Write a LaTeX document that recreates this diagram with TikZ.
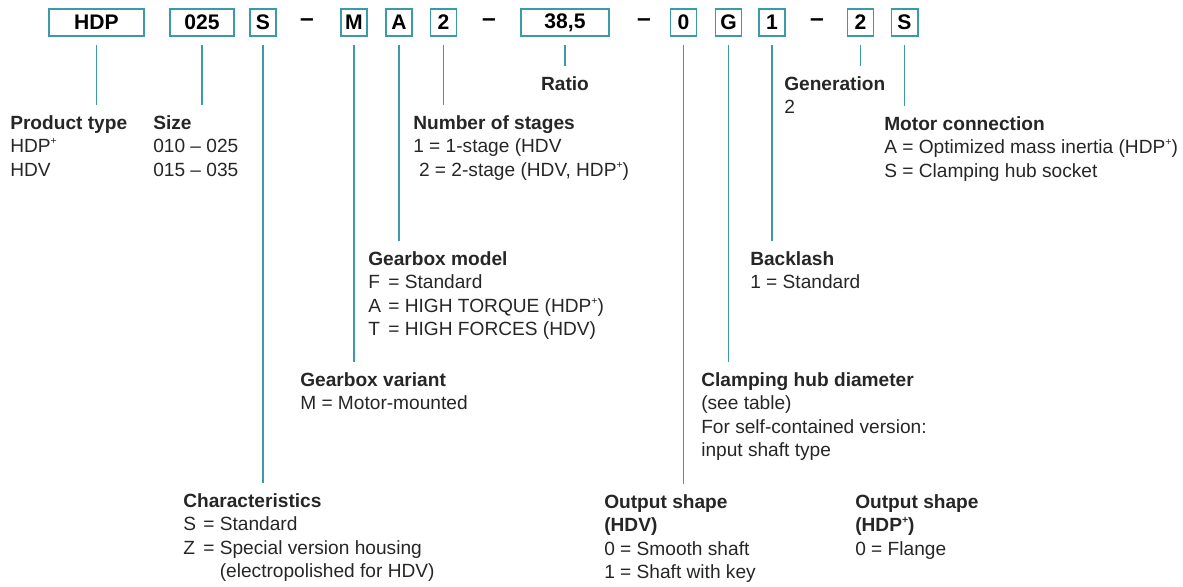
\documentclass[tikz,border=0pt]{standalone}
\usepackage{fontspec}
\setsansfont{Liberation Sans}
\usepackage{tikz}
\usetikzlibrary{positioning}
\definecolor{TCTeal}{HTML}{3A9AA5}
\definecolor{TCInk}{HTML}{262626}
\newcommand{\optline}[2]{\makebox[1.05em][l]{#1}= #2}
\newcommand{\plusup}{\raisebox{0.42em}{\fontsize{7.5}{8}\selectfont +}}

\begin{document}
\begin{tikzpicture}[
    x=0.025cm,y=-0.025cm,font=\sffamily\fontsize{13.6}{16.7}\selectfont,
    code/.style={draw=TCTeal,line width=1.4pt,minimum height=0.675cm,minimum width=0.65cm,
      inner sep=0pt,font=\sffamily\bfseries\fontsize{15}{16}\selectfont,text=black},
    sep/.style={inner sep=0pt,font=\sffamily\bfseries\fontsize{17.5}{18}\selectfont},
    info/.style={anchor=north west,inner sep=0pt,align=left,text=TCInk},
    lead/.style={draw=TCTeal,line width=1.4pt,shorten <=0.2cm,shorten >=0.25cm}
  ]
    \useasboundingbox (0,0) rectangle (1183,586);

    % type code
    \node[code,minimum width=2.375cm] (hdp) at (96.5,22.5) {HDP};
    \node[code,minimum width=1.6cm] (size) at (202,22.5) {025};
    \node[code] (char) at (263,22.5) {S};
    \node[sep] (dashA) at (307,22.5) {--};
    \node[code] (variant) at (354,22.5) {M};
    \node[code] (model) at (399,22.5) {A};
    \node[code] (stages) at (443.5,22.5) {2};
    \node[sep] (dashB) at (489,22.5) {--};
    \node[code,minimum width=2.2cm] (ratio) at (565,22.5) {38,5};
    \node[sep] (dashC) at (644,22.5) {--};
    \node[code] (shape) at (683.5,22.5) {0};
    \node[code] (hub) at (728.5,22.5) {G};
    \node[code] (backlash) at (772,22.5) {1};
    \node[sep] (dashD) at (817,22.5) {--};
    \node[code] (gen) at (860.5,22.5) {2};
    \node[code] (motor) at (904.5,22.5) {S};

    % explanations
    \node[info] (hdp-txt) at (10,115) {\textbf{Product type}\\HDP\plusup\\HDV};
    \node[info] (size-txt) at (153,115) {\textbf{Size}\\010 -- 025\\015 -- 035};
    \node[info] (stages-txt) at (413,115)
      {\textbf{Number of stages}\\1 = 1-stage (HDV\\\hspace*{0.3em}2 = 2-stage (HDV, HDP\plusup)};
    \node[info,anchor=north] (ratio-txt) at (565,76) {\textbf{Ratio}};
    \node[info] (gen-txt) at (784,76) {\textbf{Generation}\\2};
    \node[info] (motor-txt) at (884,116)
      {\textbf{Motor connection}\\A = Optimized mass inertia (HDP\plusup)\\S = Clamping hub socket};
    \node[info] (model-txt) at (368,251)
      {\textbf{Gearbox model}\\\optline{F}{Standard}\\\optline{A}{HIGH TORQUE (HDP\plusup)}\\\optline{T}{HIGH FORCES (HDV)}};
    \node[info] (backlash-txt) at (750,251) {\textbf{Backlash}\\1 = Standard};
    \node[info] (variant-txt) at (300,372) {\textbf{Gearbox variant}\\M = Motor-mounted};
    \node[info] (hub-txt) at (701,372)
      {\textbf{Clamping hub diameter}\\(see table)\\For self-contained version:\\input shaft type};
    \node[info] (char-txt) at (183,493)
      {\textbf{Characteristics}\\\optline{S}{Standard}\\\optline{Z}{Special version housing}\\\hphantom{\optline{Z}{}}(electropolished for HDV)};
    \node[info] (shape-txt) at (604,494)
      {\textbf{Output shape}\\\textbf{(HDV)}\\0 = Smooth shaft\\1 = Shaft with key};
    \node[info] (hdpshape-txt) at (855,494) {\textbf{Output shape}\\\textbf{(HDP\plusup)}\\0 = Flange};

    \draw[lead] (hdp.south) -- (hdp.south |- hdp-txt.north);
    \draw[lead] (size.south) -- (size.south |- size-txt.north);
    \draw[lead] (char.south) -- (char.south |- char-txt.north);
    \draw[lead] (variant.south) -- (variant.south |- variant-txt.north);
    \draw[lead] (model.south) -- (model.south |- model-txt.north);
    \draw[lead] (stages.south) -- (stages.south |- stages-txt.north);
    \draw[lead] (ratio.south) -- (ratio.south |- ratio-txt.north);
    \draw[lead] (shape.south) -- (shape.south |- shape-txt.north);
    \draw[lead] (hub.south) -- (hub.south |- hub-txt.north);
    \draw[lead] (backlash.south) -- (backlash.south |- backlash-txt.north);
    \draw[lead] (gen.south) -- (gen.south |- gen-txt.north);
    \draw[lead] (motor.south) -- (motor.south |- motor-txt.north);
  \end{tikzpicture}
\end{document}
